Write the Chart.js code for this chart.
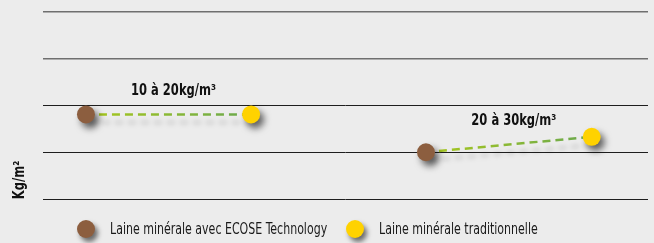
<!DOCTYPE html>
<html>
<head>
<meta charset="utf-8">
<script src="https://cdn.jsdelivr.net/npm/chart.js@4.4.1/dist/chart.umd.min.js"></script>
<style>
  html, body { margin: 0; padding: 0; background: #ececec; }
  #wrap { position: relative; width: 654px; height: 243px; }
  #legend { position: absolute; left: 77px; top: 220px; display: flex; align-items: center;
    font-family: "Liberation Sans Narrow", "DejaVu Sans Condensed", sans-serif; font-size: 15px; color: #1a1a1a; white-space: nowrap; }
  .item { display: flex; align-items: center; }
  .dot { width: 18px; height: 18px; border-radius: 50%; margin-right: 15px; box-shadow: 3px 4px 5px rgba(0,0,0,0.55); }
  .txt { display: inline-block; transform: scaleX(0.816); transform-origin: left center; }
</style>
</head>
<body>
<div id="wrap">
  <canvas id="chart" width="654" height="243"></canvas>
  <div id="legend"></div>
</div>
<script>
// densities groups
const ranges = ["10 à 20kg/m³", "20 à 30kg/m³"];
const seriesNames = ["Laine minérale avec ECOSE Technology", "Laine minérale traditionnelle"];
const seriesColors = ["#8c5e3f", "#ffd200"];
// x positions (0-100) and values in Kg/m² for each range
const ecoseX = [7.1, 63.3];
const ecoseY = [1.81, 1.0];
const tradX = [34.4, 90.7];
const tradY = [1.81, 1.33];
const yTicks = [0, 1, 2, 3, 4];

const pointSets = [
  { x: ecoseX, y: ecoseY },
  { x: tradX, y: tradY },
];

function greenGradient(ctx) {
  const chart = ctx.chart;
  const xs = chart.scales.x;
  const i = ctx.dataset.rangeIndex;
  if (!xs || !chart.chartArea) return "#8fbf3a";
  const x0 = xs.getPixelForValue(ecoseX[i]);
  const x1 = xs.getPixelForValue(tradX[i]);
  if (!isFinite(x0) || !isFinite(x1) || x0 === x1) return "#8fbf3a";
  const g = chart.ctx.createLinearGradient(x0, 0, x1, 0);
  g.addColorStop(0, "#a9c81c");
  g.addColorStop(1, "#6aa84f");
  return g;
}

const datasets = [];
ranges.forEach((r, i) => {
  datasets.push({
    type: "line",
    label: r,
    rangeIndex: i,
    data: [{ x: ecoseX[i], y: ecoseY[i] }, { x: tradX[i], y: tradY[i] }],
    borderColor: greenGradient,
    borderWidth: 2.5,
    borderDash: [8, 5],
    pointRadius: 0,
    order: 2,
  });
});
seriesNames.forEach((name, s) => {
  datasets.push({
    type: "scatter",
    label: name,
    data: pointSets[s].x.map((x, i) => ({ x: x, y: pointSets[s].y[i] })),
    backgroundColor: seriesColors[s],
    borderWidth: 0,
    pointRadius: 9,
    pointHoverRadius: 9,
    order: 1,
  });
});

const shadowPlugin = {
  id: "shadow",
  beforeDatasetDraw(chart, args) {
    const c = chart.ctx;
    c.save();
    if (args.meta.type === "scatter") {
      c.shadowColor = "rgba(0,0,0,0.6)";
      c.shadowBlur = 7;
      c.shadowOffsetX = 4;
      c.shadowOffsetY = 5;
    } else {
      c.shadowColor = "rgba(0,0,0,0.18)";
      c.shadowBlur = 5;
      c.shadowOffsetX = 3;
      c.shadowOffsetY = 8;
    }
  },
  afterDatasetDraw(chart) {
    chart.ctx.restore();
  },
};

function condensedText(c, text, x, y, sx) {
  c.save();
  c.translate(x, y);
  c.scale(sx, 1);
  c.fillText(text, 0, 0);
  c.restore();
}

const textPlugin = {
  id: "texts",
  afterDatasetsDraw(chart) {
    const c = chart.ctx;
    const xs = chart.scales.x, ys = chart.scales.y;
    c.save();
    c.fillStyle = "#111";
    c.font = "bold 16px 'Liberation Sans Narrow', 'DejaVu Sans Condensed', sans-serif";
    c.textAlign = "center";
    c.textBaseline = "middle";
    ranges.forEach((r, i) => {
      const mx = (xs.getPixelForValue(ecoseX[i]) + xs.getPixelForValue(tradX[i])) / 2;
      const my = (ys.getPixelForValue(ecoseY[i]) + ys.getPixelForValue(tradY[i])) / 2;
      condensedText(c, r, mx + 5, my - 24, 0.8);
    });
    // y axis title
    c.translate(20, 180);
    c.rotate(-Math.PI / 2);
    condensedText(c, "Kg/m²", 0, 0, 0.8);
    c.restore();
  },
};

new Chart(document.getElementById("chart"), {
  type: "scatter",
  data: { datasets: datasets },
  options: {
    responsive: false,
    animation: false,
    layout: { autoPadding: false, padding: { left: 43, right: 6, top: 12, bottom: 44 } },
    plugins: { legend: { display: false }, tooltip: { enabled: false } },
    scales: {
      x: { type: "linear", min: 0, max: 100, display: false },
      y: {
        min: yTicks[0],
        max: yTicks[yTicks.length - 1],
        afterBuildTicks: (axis) => { axis.ticks = yTicks.map((v) => ({ value: v })); },
        ticks: { display: false },
        border: { display: false },
        grid: {
          drawTicks: false,
          color: (ctx) => (ctx.tick && ctx.tick.value >= 3 ? "#6f6f6f" : "#1e1e1e"),
          lineWidth: (ctx) => (ctx.tick && ctx.tick.value >= 3 ? 1.5 : 1),
        },
      },
    },
  },
  plugins: [shadowPlugin, textPlugin],
});

// legend from the point series
const legend = document.getElementById("legend");
seriesNames.forEach((name, s) => {
  const item = document.createElement("div");
  item.className = "item";
  const dot = document.createElement("span");
  dot.className = "dot";
  dot.style.background = seriesColors[s];
  const txt = document.createElement("span");
  txt.className = "txt";
  txt.textContent = name;
  item.appendChild(dot);
  item.appendChild(txt);
  legend.appendChild(item);
  // transform doesn't shrink layout box, take back the lost width
  const w = txt.offsetWidth;
  txt.style.marginRight = (19 - w * (1 - 0.816)) + "px";
});
</script>
</body>
</html>
